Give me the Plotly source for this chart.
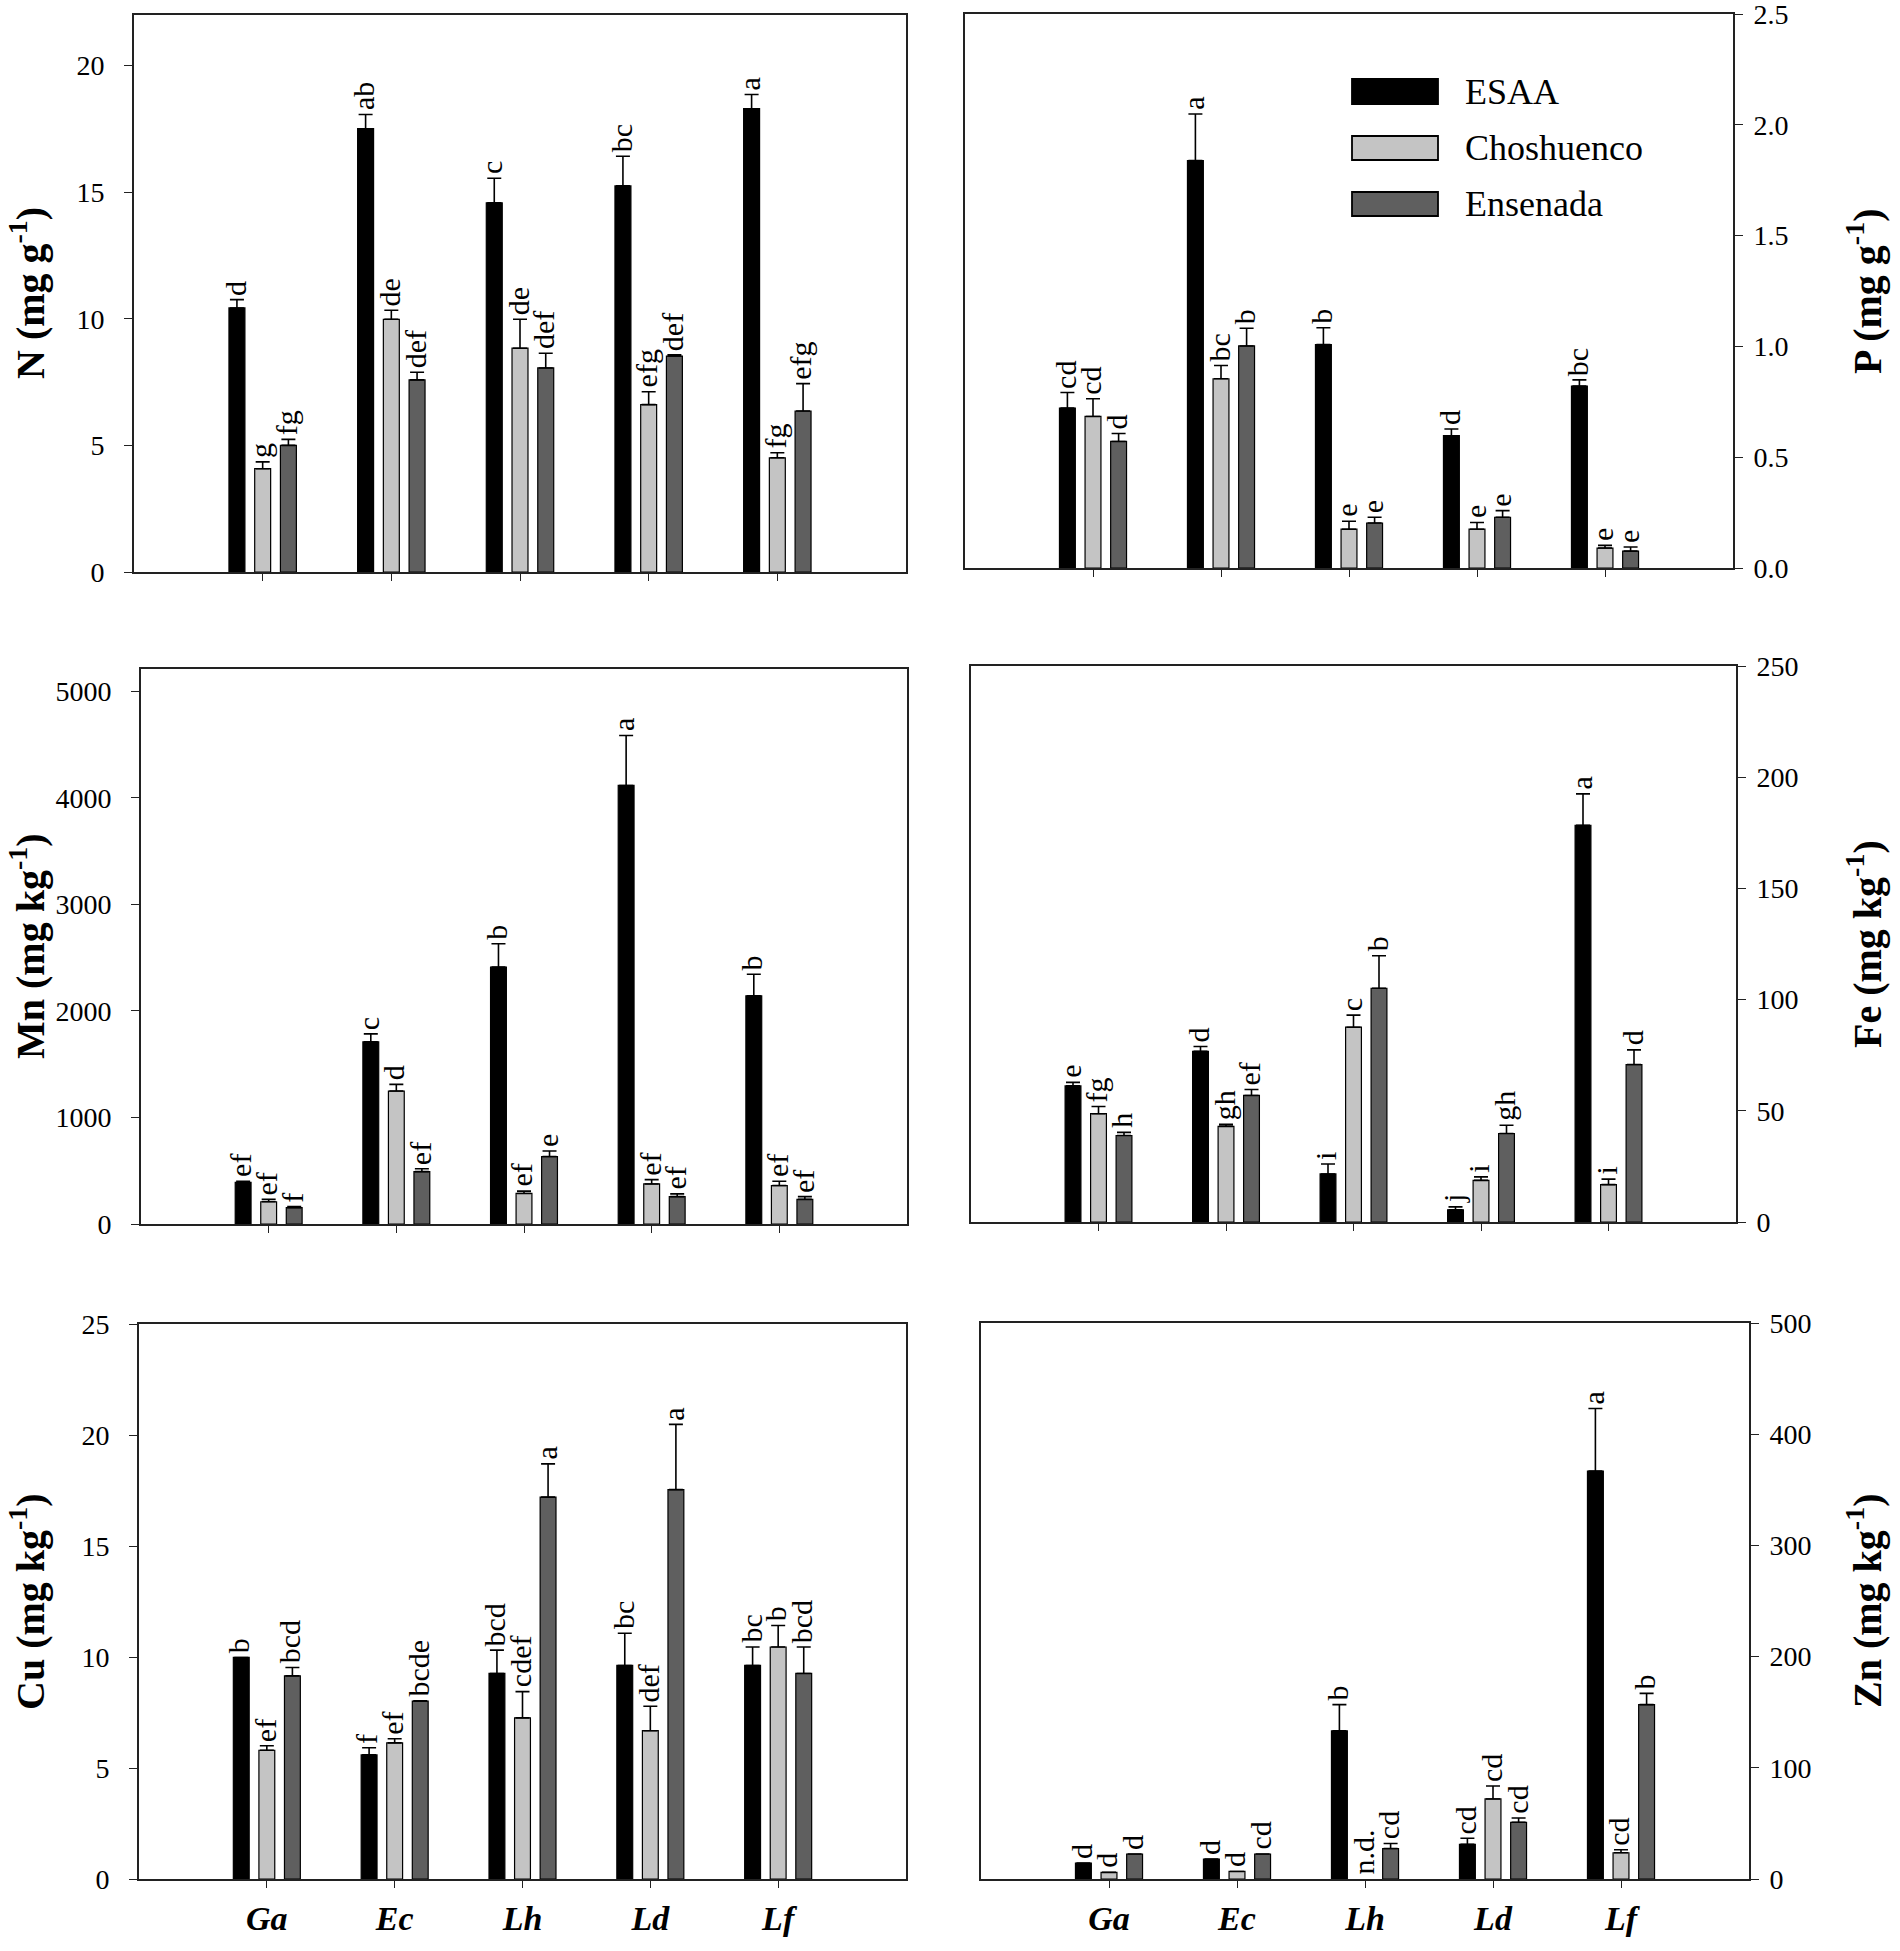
import plotly.graph_objects as go

# ---------------- data ----------------
categories = ["Ga", "Ec", "Lh", "Ld", "Lf"]
series_names = ["ESAA", "Choshuenco", "Ensenada"]

# N (mg g-1)
N_esaa = [10.43, 17.51, 14.58, 15.25, 18.30]
N_esaa_err = [0.33, 0.56, 0.97, 1.17, 0.56]
N_chos = [4.08, 9.98, 8.84, 6.61, 4.51]
N_chos_err = [0.27, 0.36, 1.14, 0.51, 0.20]
N_ens = [5.00, 7.59, 8.06, 8.53, 6.36]
N_ens_err = [0.24, 0.30, 0.58, 0.05, 1.08]
N_let_esaa = ["d", "ab", "c", "bc", "a"]
N_let_chos = ["g", "de", "de", "efg", "fg"]
N_let_ens = ["fg", "def", "def", "def", "efg"]

# P (mg g-1)
P_esaa = [0.722, 1.839, 1.008, 0.597, 0.821]
P_esaa_err = [0.070, 0.210, 0.076, 0.030, 0.028]
P_chos = [0.684, 0.854, 0.175, 0.175, 0.090]
P_chos_err = [0.080, 0.060, 0.036, 0.030, 0.012]
P_ens = [0.571, 1.002, 0.203, 0.229, 0.076]
P_ens_err = [0.036, 0.080, 0.026, 0.030, 0.019]
P_let_esaa = ["cd", "a", "b", "d", "bc"]
P_let_chos = ["cd", "bc", "e", "e", "e"]
P_let_ens = ["d", "b", "e", "e", "e"]

# Mn (mg kg-1)
Mn_esaa = [391, 1710, 2411, 4117, 2142]
Mn_esaa_err = [10, 75, 220, 469, 202]
Mn_chos = [209, 1248, 287, 376, 361]
Mn_chos_err = [22, 63, 22, 41, 41]
Mn_ens = [153, 492, 633, 257, 231]
Mn_ens_err = [11, 26, 52, 26, 26]
Mn_let_esaa = ["ef", "c", "b", "a", "b"]
Mn_let_chos = ["ef", "d", "ef", "ef", "ef"]
Mn_let_ens = ["f", "ef", "e", "ef", "ef"]

# Fe (mg kg-1)
Fe_esaa = [61.2, 76.7, 21.6, 5.5, 178.4]
Fe_esaa_err = [1.6, 2.2, 4.5, 1.3, 14.1]
Fe_chos = [48.7, 43.0, 87.6, 18.7, 16.8]
Fe_chos_err = [3.2, 0.9, 5.4, 1.6, 2.5]
Fe_ens = [38.9, 56.9, 105.1, 39.8, 70.8]
Fe_ens_err = [1.4, 2.7, 14.6, 3.7, 6.6]
Fe_let_esaa = ["e", "d", "i", "j", "a"]
Fe_let_chos = ["fg", "gh", "c", "i", "i"]
Fe_let_ens = ["h", "ef", "b", "gh", "d"]

# Cu (mg kg-1)
Cu_esaa = [9.98, 5.59, 9.26, 9.62, 9.62]
Cu_esaa_err = [0.0, 0.32, 1.05, 1.45, 0.83]
Cu_chos = [5.80, 6.13, 7.26, 6.68, 10.45]
Cu_chos_err = [0.20, 0.19, 1.18, 1.10, 0.97]
Cu_ens = [9.15, 8.01, 17.20, 17.54, 9.26]
Cu_ens_err = [0.38, 0.02, 1.50, 2.94, 1.19]
Cu_let_esaa = ["b", "f", "bcd", "bc", "bc"]
Cu_let_chos = ["ef", "ef", "cdef", "def", "b"]
Cu_let_ens = ["bcd", "bcde", "a", "a", "bcd"]

# Zn (mg kg-1)  (Choshuenco Lh not detected)
Zn_esaa = [14.3, 18.0, 133.2, 31.1, 366.8]
Zn_esaa_err = [0.0, 0.0, 23.6, 5.6, 56.3]
Zn_chos = [6.0, 6.8, None, 72.0, 23.6]
Zn_chos_err = [0.0, 0.0, 0.0, 11.6, 2.7]
Zn_ens = [22.5, 22.5, 27.4, 51.0, 156.8]
Zn_ens_err = [0.0, 0.0, 4.5, 3.8, 10.1]
Zn_let_esaa = ["d", "d", "b", "cd", "a"]
Zn_let_chos = ["d", "d", "n.d.", "cd", "cd"]
Zn_let_ens = ["d", "cd", "cd", "cd", "b"]

# ---------------- styling ----------------
FONT = "Liberation Serif, Times New Roman, serif"
colors = ["#000000", "#c4c4c4", "#5f5f5f"]
W, H = 1900, 1951


def fx(px):
    return px / W


def fy(py):
    return 1 - py / H


# panel boxes in pixels: (left, right, top, bottom)
boxes = [
    (134, 906, 15, 572),
    (965, 1733, 14, 568),
    (141, 907, 669, 1224),
    (971, 1736, 666, 1222),
    (139, 906, 1324, 1879),
    (981, 1749, 1323, 1879),
]

panels = [
    dict(vals=[N_esaa, N_chos, N_ens], errs=[N_esaa_err, N_chos_err, N_ens_err],
         lets=[N_let_esaa, N_let_chos, N_let_ens], side="left",
         rng=[0, 22], dtick=5, fmt="", title="N (mg g<sup>-1</sup>)", bottom=False),
    dict(vals=[P_esaa, P_chos, P_ens], errs=[P_esaa_err, P_chos_err, P_ens_err],
         lets=[P_let_esaa, P_let_chos, P_let_ens], side="right",
         rng=[0, 2.5], dtick=0.5, fmt=".1f", title="P (mg g<sup>-1</sup>)", bottom=False),
    dict(vals=[Mn_esaa, Mn_chos, Mn_ens], errs=[Mn_esaa_err, Mn_chos_err, Mn_ens_err],
         lets=[Mn_let_esaa, Mn_let_chos, Mn_let_ens], side="left",
         rng=[0, 5210], dtick=1000, fmt="", title="Mn (mg kg<sup>-1</sup>)", bottom=False),
    dict(vals=[Fe_esaa, Fe_chos, Fe_ens], errs=[Fe_esaa_err, Fe_chos_err, Fe_ens_err],
         lets=[Fe_let_esaa, Fe_let_chos, Fe_let_ens], side="right",
         rng=[0, 250], dtick=50, fmt="", title="Fe (mg kg<sup>-1</sup>)", bottom=False),
    dict(vals=[Cu_esaa, Cu_chos, Cu_ens], errs=[Cu_esaa_err, Cu_chos_err, Cu_ens_err],
         lets=[Cu_let_esaa, Cu_let_chos, Cu_let_ens], side="left",
         rng=[0, 25], dtick=5, fmt="", title="Cu (mg kg<sup>-1</sup>)", bottom=True),
    dict(vals=[Zn_esaa, Zn_chos, Zn_ens], errs=[Zn_esaa_err, Zn_chos_err, Zn_ens_err],
         lets=[Zn_let_esaa, Zn_let_chos, Zn_let_ens], side="right",
         rng=[0, 500], dtick=100, fmt="", title="Zn (mg kg<sup>-1</sup>)", bottom=True),
]

fig = go.Figure()
annotations = []
shapes = []
offsets = [-0.2, 0.0, 0.2]

for p_i, p in enumerate(panels):
    n = p_i + 1
    xa = "x" if n == 1 else f"x{n}"
    ya = "y" if n == 1 else f"y{n}"
    l, r, t, b = boxes[p_i]
    for s in range(3):
        fig.add_trace(go.Bar(
            x=categories, y=p["vals"][s], name=series_names[s],
            xaxis=xa, yaxis=ya, showlegend=False,
            marker=dict(color=colors[s], line=dict(color="#000000", width=1.2)),
            error_y=dict(type="data", symmetric=False, array=p["errs"][s],
                         arrayminus=[0] * len(categories), color="#000000",
                         thickness=1.6, width=7),
        ))
        for c_i, cat in enumerate(categories):
            v = p["vals"][s][c_i]
            e = p["errs"][s][c_i]
            top = (v or 0) + (e or 0)
            annotations.append(dict(
                x=c_i + offsets[s], y=top, xref=xa, yref=ya,
                text=p["lets"][s][c_i], showarrow=False, textangle=-90,
                xanchor="center", yanchor="bottom", yshift=2, xshift=-2,
                font=dict(family=FONT, size=30, color="#000000"),
            ))
    xkey = "xaxis" if n == 1 else f"xaxis{n}"
    ykey = "yaxis" if n == 1 else f"yaxis{n}"
    fig.layout[xkey] = dict(
        domain=[fx(l), fx(r)], anchor=ya, type="category", range=[-1, 5],
        automargin=False,
        showline=True, mirror=True, linecolor="#222222", linewidth=1.6,
        ticks="outside", ticklen=7, tickwidth=1.3, tickcolor="#222222",
        showticklabels=p["bottom"], showgrid=False, zeroline=False,
        tickfont=dict(family=FONT, size=34, color="#000000"),
        ticklabelstandoff=1, ticklabeloverflow="allow",
        tickvals=categories,
        ticktext=[f"<b><i>{c}</i></b>" for c in categories],
    )
    fig.layout[ykey] = dict(
        domain=[fy(b), fy(t)], anchor=xa, range=p["rng"], dtick=p["dtick"], tick0=0,
        tickformat=p["fmt"], side=p["side"], automargin=False,
        showline=True, mirror=True, linecolor="#222222", linewidth=1.6,
        ticks="outside", ticklen=8, tickwidth=1.3, tickcolor="#222222",
        showgrid=False, zeroline=False, ticklabeloverflow="allow",
        tickfont=dict(family=FONT, size=28, color="#000000"),
        ticklabelstandoff=14 if p["side"] == "left" else 5,
    )
    # axis title as rotated text
    if p["side"] == "left":
        tx, anc = 0, "left"
    else:
        tx, anc = 1864, "center"
    annotations.append(dict(
        x=fx(tx), y=fy((t + b) / 2), xref="paper", yref="paper",
        text=f"<b>{p['title']}</b>", showarrow=False, textangle=-90,
        xanchor=anc, yanchor="middle",
        font=dict(family=FONT, size=40, color="#000000"),
    ))

# legend (inside P panel)
leg_box_x = [1352, 1438]
leg_rows_px = [(79, 104), (136, 160), (192, 216)]
for s, (t, b) in enumerate(leg_rows_px):
    shapes.append(dict(type="rect", xref="paper", yref="paper",
                       x0=fx(leg_box_x[0]), x1=fx(leg_box_x[1]), y0=fy(b), y1=fy(t),
                       fillcolor=colors[s], line=dict(color="#000000", width=1.8)))
    annotations.append(dict(
        x=fx(1463), y=fy((t + b) / 2), xref="paper", yref="paper",
        text=series_names[s], showarrow=False, xanchor="left", yanchor="middle",
        font=dict(family=FONT, size=36, color="#000000"),
    ))

fig.update_layout(
    width=W, height=H, margin=dict(l=0, r=0, t=0, b=0, autoexpand=False),
    paper_bgcolor="white", plot_bgcolor="white",
    barmode="group", bargap=0.4, bargroupgap=0.38,
    annotations=annotations, shapes=shapes,
    font=dict(family=FONT, color="#000000"),
)

fig.write_html("out.html", config={"displayModeBar": False},
               post_script="document.body.style.margin='0px';")
